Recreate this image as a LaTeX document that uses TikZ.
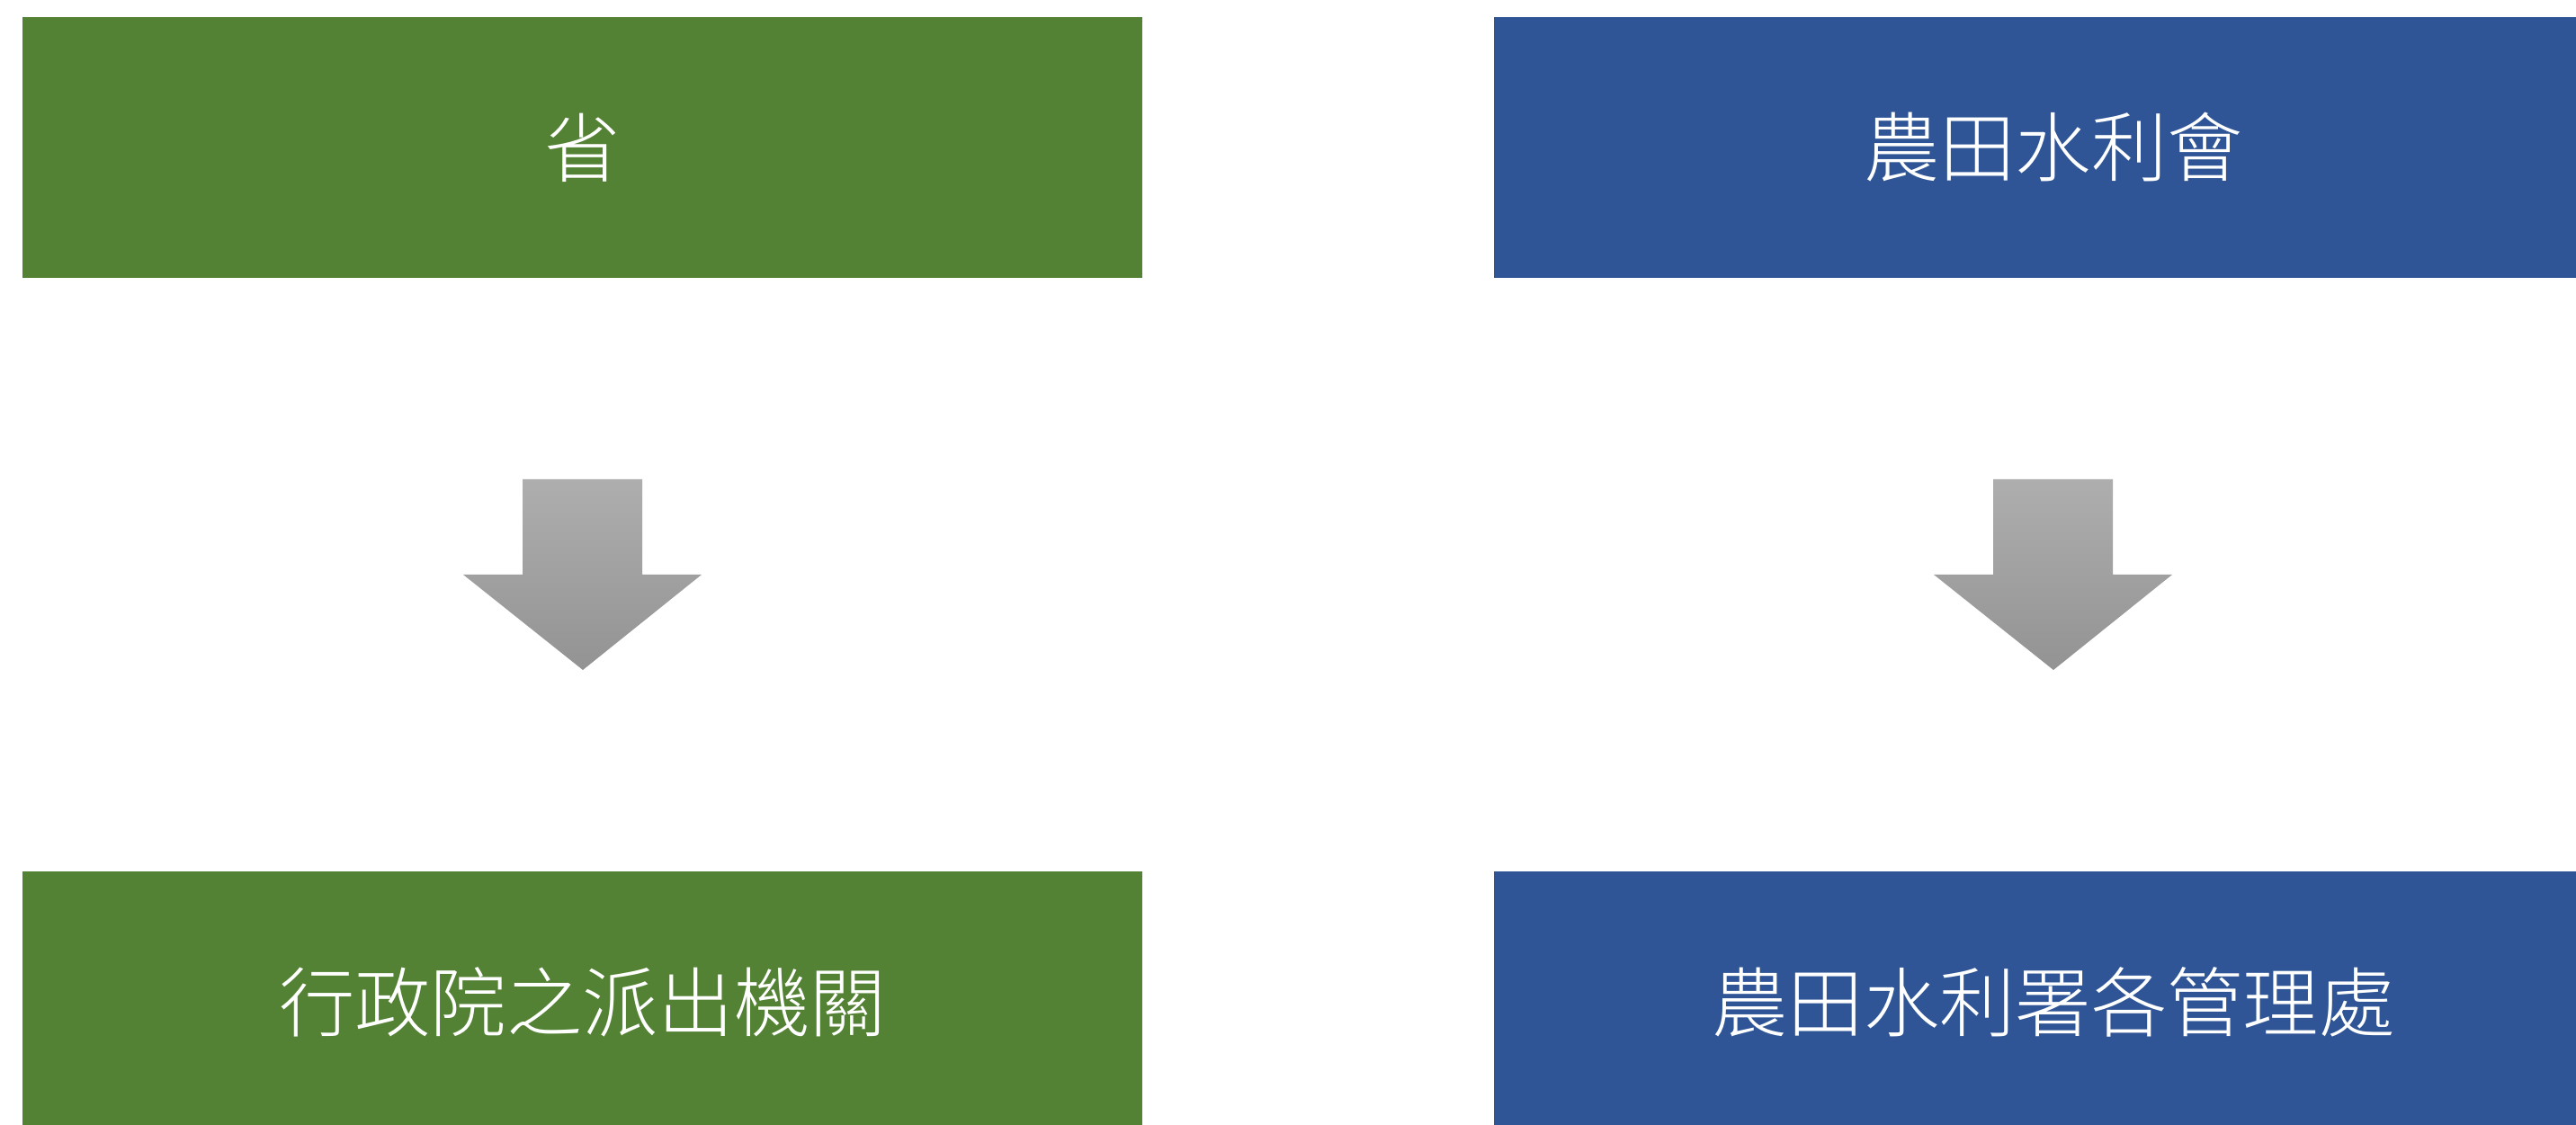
\documentclass[tikz,border=0pt]{standalone}
\usepackage{fontspec}
\usepackage{tikz}
\newfontfamily\cjk{Noto Sans CJK TC Light}
\definecolor{govgreen}{HTML}{548235}
\definecolor{irrblue}{HTML}{2F5597}
\definecolor{arrtop}{HTML}{AEAEAE}
\definecolor{arrbot}{HTML}{939393}

\begin{document}
\begin{tikzpicture}[
		box/.style={minimum width=12.45cm, minimum height=2.9cm, inner sep=0pt,
			text=white, font=\cjk\fontsize{24}{28}\selectfont},
		downarrow/.style={top color=arrtop, bottom color=arrbot, draw=none}
	]
			\clip (0,0) rectangle (28.64,12.51);
			\fill[white] (0,0) rectangle (28.64,12.51);

			% old
			\node[box, fill=govgreen] (prov) at (6.475,10.87) {省};
			\node[box, fill=irrblue] (assoc) at (22.83,10.87) {農田水利會};

			% new
			\node[box, fill=govgreen] (branch) at (6.475,1.37) {行政院之派出機關};
			\node[box, fill=irrblue] (office) at (22.83,1.37) {農田水利署各管理處};

			\shade[downarrow] (5.81,7.18) -- (7.14,7.18) -- (7.14,6.12) -- (7.80,6.12)
				-- (6.48,5.06) -- (5.15,6.12) -- (5.81,6.12) -- cycle;
			\shade[downarrow] (22.16,7.18) -- (23.49,7.18) -- (23.49,6.12) -- (24.15,6.12)
				-- (22.83,5.06) -- (21.50,6.12) -- (22.16,6.12) -- cycle;
		\end{tikzpicture}
\end{document}
